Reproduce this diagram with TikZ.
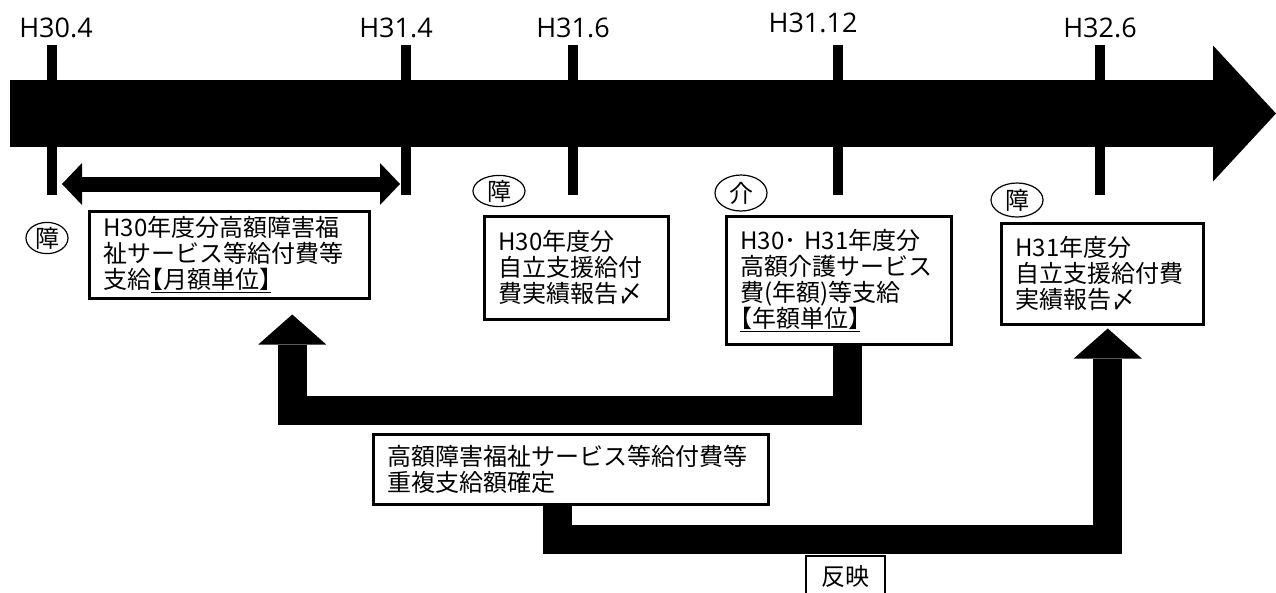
\documentclass[tikz,border=0pt]{standalone}
\usepackage{fontspec}
\setmainfont{Noto Sans CJK JP}
\newfontfamily\datefont{Open Sans}
\newfontfamily\halffont[RawFeature=+halt]{Noto Sans CJK JP}
\usetikzlibrary{arrows.meta}
\usetikzlibrary{shapes.geometric}
\pgfdeclarelayer{edgelayer}
\pgfdeclarelayer{nodelayer}
\pgfsetlayers{edgelayer,nodelayer,main}
\newcommand{\unitnote}[1]{\underline{{\halffont 【}#1{\halffont 】}}}
\tikzstyle{none}=[inner sep=0pt]
\tikzstyle{date}=[inner sep=0pt,font=\datefont\fontsize{27pt}{30pt}\selectfont]
\tikzstyle{office}=[ellipse,draw=black,line width=1.2pt,inner sep=0pt,minimum width=52pt,minimum height=30pt,font=\fontsize{24pt}{26pt}\selectfont]
\tikzstyle{event}=[rectangle,draw=black,fill=white,line width=2.5pt,anchor=north west,align=left,inner xsep=14pt,inner ysep=3pt,font=\fontsize{24pt}{26pt}\selectfont]
\tikzstyle{tag}=[rectangle,draw=black,fill=white,line width=2.5pt,inner sep=0pt,minimum width=79pt,minimum height=40pt,font=\fontsize{24pt}{26pt}\selectfont]
\tikzstyle{datetick}=[draw=black,line width=10pt]
\tikzstyle{timeline}=[-{Triangle[length=63pt,width=136pt,line width=0pt]},draw=black,line width=67pt]
\tikzstyle{period}=[{Triangle[length=20pt,width=42pt,line width=0pt]}-{Triangle[length=20pt,width=42pt,line width=0pt]},draw=black,line width=15pt]
\tikzstyle{transfer}=[-{Triangle[length=30pt,width=68pt,line width=0pt]},draw=black,line width=29pt,line join=miter]

\begin{document}
\begin{tikzpicture}[x=1pt,y=-1pt]
	\useasboundingbox (0,0) rectangle (1276,592);
	\begin{pgfonlayer}{nodelayer}
		\node [style=date] (0) at (56, 28) {H30.4};
		\node [style=date] (1) at (396, 28) {H31.4};
		\node [style=date] (2) at (573, 28) {H31.6};
		\node [style=date] (3) at (813, 22.5) {H31.12};
		\node [style=date] (4) at (1100, 28) {H32.6};
		\node [style=event, text width=252pt, minimum height=87pt] (5) at (88, 210) {H30年度分高額障害福\\祉サービス等給付費等\\支給\unitnote{月額単位}};
		\node [style=office, minimum width=42pt] (6) at (47, 238) {障};
		\node [style=event, text width=156pt, minimum height=103pt] (7) at (483, 215) {H30年度分\\自立支援給付\\費実績報告〆};
		\node [style=office, minimum height=30pt] (8) at (499, 191) {障};
		\node [style=event, text width=197pt, minimum height=128pt] (9) at (725, 215) {H30･ H31年度分\\高額介護サービス\\費(年額)等支給\\\unitnote{年額単位}};
		\node [style=office, minimum height=36pt] (10) at (741, 193) {介};
		\node [style=event, text width=174pt, minimum height=101pt] (11) at (1000, 222) {H31年度分\\自立支援給付費\\実績報告〆};
		\node [style=office, minimum height=34pt] (12) at (1017, 200) {障};
		\node [style=event, text width=367pt, minimum height=70pt] (13) at (372, 433) {高額障害福祉サービス等給付費等\\重複支給額確定};
		\node [style=tag] (14) at (845.5, 576) {反映};
		\coordinate (15) at (10, 113.5);
		\coordinate (16) at (1276, 113.5);
		\coordinate (17) at (62, 184);
		\coordinate (18) at (400, 184);
	\end{pgfonlayer}
	\begin{pgfonlayer}{edgelayer}
		\draw [style=timeline] (15) to (16);
		\draw [style=datetick] (52, 45) to (52, 195);
		\draw [style=datetick] (406, 45) to (406, 195);
		\draw [style=datetick] (573, 45) to (573, 195);
		\draw [style=datetick] (838, 45) to (838, 195);
		\draw [style=datetick] (1100, 45) to (1100, 195);
		\draw [style=period] (17) to (18);
		\draw [style=transfer] ([xshift=8.5pt]9.south) -- ++(0, 65) -| ([xshift=63pt, yshift=-15pt]5.south);
		\draw [style=transfer] ([xshift=-13pt]13.south) -- ++(0, 34) -| ([xshift=5.5pt, yshift=-3pt]11.south);
	\end{pgfonlayer}
\end{tikzpicture}
\end{document}
